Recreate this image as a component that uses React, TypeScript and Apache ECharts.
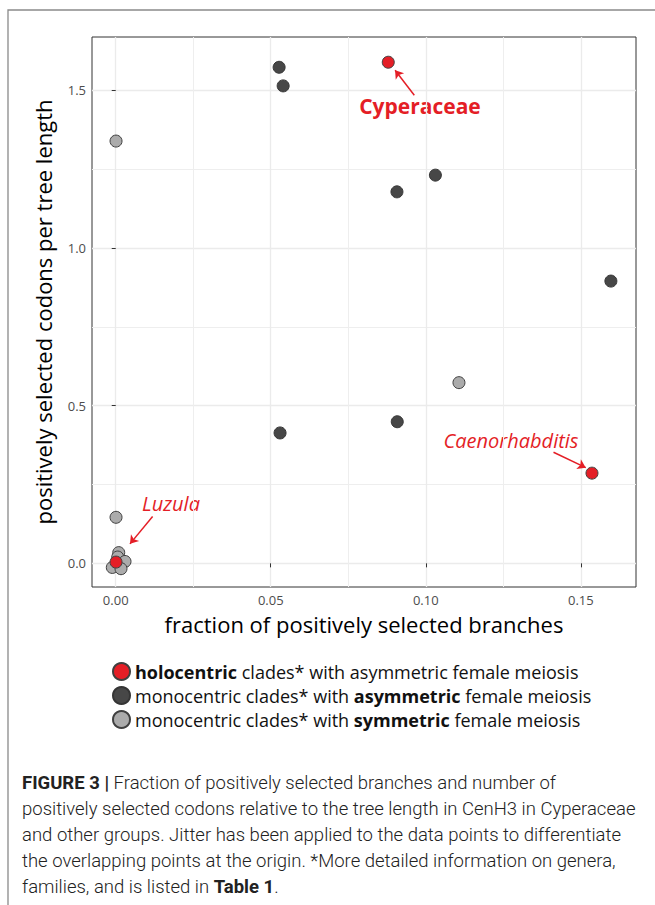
import React, { useEffect, useRef } from "react";
import * as echarts from "echarts";

// ---- axis ticks ----
const xTicks = [0, 0.05, 0.1, 0.15];
const xMinorTicks = [0.025, 0.075, 0.125];
const yTicks = [0, 0.5, 1.0, 1.5];
const yMinorTicks = [0.25, 0.75, 1.25];
const xRange = [-0.00765, 0.1678];
const yRange = [-0.075, 1.669];

// ---- data: [fraction of positively selected branches, codons per tree length] ----
const holocentric = [
  [0.0879, 1.589],
  [0.1536, 0.286],
  [0.0001, 0.004],
];
const monoAsym = [
  [0.0527, 1.573],
  [0.054, 1.514],
  [0.1031, 1.231],
  [0.0907, 1.178],
  [0.1597, 0.895],
  [0.053, 0.4135],
  [0.0908, 0.449],
];
const monoSym = [
  [0.0001, 1.339],
  [0.1107, 0.573],
  [0.0001, 0.146],
  [0.00097, 0.034],
  [0.00065, 0.02],
  [0.003, 0.006],
  [-0.0011, -0.013],
  [0.0017, -0.017],
];

const seriesNames = [
  "holocentric clades* with asymmetric female meiosis",
  "monocentric clades* with asymmetric female meiosis",
  "monocentric clades* with symmetric female meiosis",
];
const legendRich = [
  "{b|holocentric} clades* with asymmetric female meiosis",
  "monocentric clades* with {b|asymmetric} female meiosis",
  "monocentric clades* with {b|symmetric} female meiosis",
];

// ---- annotation arrows (tail -> head, data coords) ----
const arrowCyperaceae = [[0.0963, 1.4845], [0.0901, 1.5637]];
const arrowCaeno = [[0.1412, 0.3523], [0.1516, 0.3035]];
const arrowLuzula = [[0.0119, 0.1483], [0.0046, 0.0618]];

const captionLines = [
  "{b|FIGURE 3 |} Fraction of positively selected branches and number of",
  "positively selected codons relative to the tree length in CenH3 in Cyperaceae",
  "and other groups. Jitter has been applied to the data points to differentiate",
  "the overlapping points at the origin. *More detailed information on genera,",
  "families, and is listed in {b|Table 1}.",
];

const RED = "#E41E26";
const FONT = "'Open Sans', 'Noto Sans', sans-serif";
const CAPFONT = "Roboto, 'Liberation Sans', sans-serif";

export default function App() {
  const ref = useRef<HTMLDivElement>(null);
  useEffect(() => {
    if (!ref.current) return;
    const chart = echarts.init(ref.current, undefined, { renderer: "svg" });
    const arrowData = [arrowCyperaceae, arrowCaeno, arrowLuzula].map((a) => [
      { coord: a[0], symbol: "none" },
      { coord: a[1], symbol: "arrow" },
    ]);
    const baseAxisX = { type: "value", min: xRange[0], max: xRange[1] };
    const baseAxisY = { type: "value", min: yRange[0], max: yRange[1] };
    const option: any = {
      animation: false,
      backgroundColor: "#ffffff",
      grid: {
        left: 92,
        right: 19,
        top: 37,
        bottom: 318,
        show: true,
        borderColor: "#333333",
        borderWidth: 1,
        backgroundColor: "transparent",
        containLabel: false,
        outerBoundsMode: "none",
      },
      xAxis: [
        {
          ...baseAxisX,
          position: "bottom",
          axisLine: { show: false },
          axisTick: {
            show: true,
            customValues: xTicks,
            length: 4,
            lineStyle: { color: "#333333", width: 1 },
          },
          axisLabel: {
            customValues: xTicks,
            formatter: (v: number) => v.toFixed(2),
            color: "#4D4D4D",
            fontSize: 13,
            fontFamily: FONT,
            margin: 6,
          },
          splitLine: { show: true, lineStyle: { color: "#EBEBEB", width: 1.3 } },
        },
        {
          ...baseAxisX,
          position: "top",
          axisLine: { show: false },
          axisTick: { show: false, customValues: xMinorTicks },
          axisLabel: { show: false, customValues: xMinorTicks },
          splitLine: { show: true, lineStyle: { color: "#EEEEEE", width: 1 } },
        },
      ],
      yAxis: [
        {
          ...baseAxisY,
          position: "left",
          axisLine: { show: false },
          axisTick: {
            show: true,
            customValues: yTicks,
            length: 4,
            lineStyle: { color: "#333333", width: 1 },
          },
          axisLabel: {
            customValues: yTicks,
            formatter: (v: number) => v.toFixed(1),
            color: "#4D4D4D",
            fontSize: 13,
            fontFamily: FONT,
            margin: 6,
          },
          splitLine: { show: true, lineStyle: { color: "#EBEBEB", width: 1.3 } },
        },
        {
          ...baseAxisY,
          position: "right",
          axisLine: { show: false },
          axisTick: { show: false, customValues: yMinorTicks },
          axisLabel: { show: false, customValues: yMinorTicks },
          splitLine: { show: true, lineStyle: { color: "#EEEEEE", width: 1 } },
        },
      ],
      legend: {
        data: seriesNames,
        orient: "vertical",
        left: 107,
        top: 657,
        icon: "circle",
        itemWidth: 17,
        itemHeight: 17,
        itemGap: 5,
        formatter: (name: string) => legendRich[seriesNames.indexOf(name)],
        textStyle: {
          fontSize: 18,
          lineHeight: 18,
          color: "#111111",
          fontFamily: FONT,
          rich: {
            b: { fontSize: 18, lineHeight: 18, fontWeight: "bold", color: "#111111", fontFamily: FONT },
          },
        },
      },
      series: [
        {
          name: seriesNames[2],
          type: "scatter",
          data: monoSym,
          symbolSize: 12,
          z: 2,
          itemStyle: { color: "#ABABAB", borderColor: "#404040", borderWidth: 1, opacity: 1 },
        },
        {
          name: seriesNames[1],
          type: "scatter",
          data: monoAsym,
          symbolSize: 12,
          z: 3,
          itemStyle: { color: "#474747", borderColor: "#353535", borderWidth: 1, opacity: 1 },
        },
        {
          name: seriesNames[0],
          type: "scatter",
          data: holocentric,
          symbolSize: 12,
          z: 4,
          itemStyle: { color: RED, borderColor: "#404040", borderWidth: 1, opacity: 1 },
          markLine: {
            silent: true,
            animation: false,
            symbolSize: 8,
            label: { show: false },
            lineStyle: { color: RED, width: 1.5, type: "solid" },
            emphasis: { disabled: true },
            data: arrowData,
          },
        },
      ],
      graphic: [
        {
          type: "rect",
          shape: { x: 8, y: 10, width: 800, height: 1000 },
          style: { fill: "none", stroke: "#8a8a8a", lineWidth: 1.3 },
          silent: true,
        },
        {
          type: "text",
          x: 364,
          y: 624,
          style: {
            text: "fraction of positively selected branches",
            font: `22px ${FONT}`,
            fill: "#000000",
            align: "center",
            verticalAlign: "middle",
          },
        },
        {
          type: "text",
          x: 43,
          y: 312,
          rotation: Math.PI / 2,
          style: {
            text: "positively selected codons per tree length",
            font: `22px ${FONT}`,
            fill: "#000000",
            align: "center",
            verticalAlign: "middle",
          },
        },
        {
          type: "text",
          x: 420,
          y: 106,
          style: {
            text: "Cyperaceae",
            font: `bold 21px ${FONT}`,
            fill: RED,
            align: "center",
            verticalAlign: "middle",
          },
        },
        {
          type: "text",
          x: 511,
          y: 440,
          style: {
            text: "Caenorhabditis",
            font: `italic 20px ${FONT}`,
            fill: RED,
            align: "center",
            verticalAlign: "middle",
          },
        },
        {
          type: "text",
          x: 171,
          y: 503,
          style: {
            text: "Luzula",
            font: `italic 20px ${FONT}`,
            fill: RED,
            align: "center",
            verticalAlign: "middle",
          },
        },
        ...captionLines.map((t, i) => ({
          type: "text",
          x: 22,
          y: 783 + i * 26,
          style: {
            text: t,
            fontFamily: CAPFONT,
            fontSize: 18.5,
            fontWeight: 300,
            fill: "#222222",
            align: "left",
            verticalAlign: "middle",
            rich: {
              b: { fontFamily: CAPFONT, fontSize: 18.5, fontWeight: "bold", fill: "#222222" },
            },
          },
        })),
      ],
    };
    chart.setOption(option);
    return () => chart.dispose();
  }, []);
  return (
    <div
      ref={ref}
      style={{ position: "absolute", left: 0, top: 0, width: 655, height: 905 }}
    />
  );
}
